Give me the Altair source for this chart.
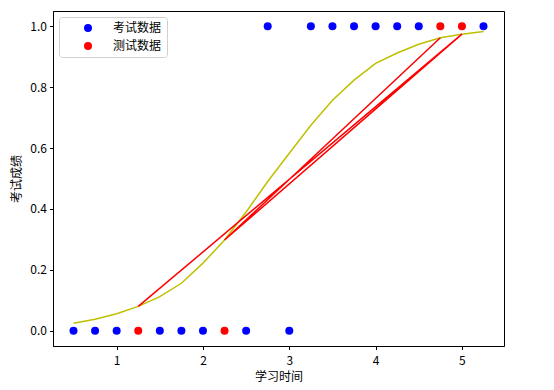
import altair as alt
import pandas as pd

# training data (考试数据)
train_x = [0.5, 0.75, 1.0, 1.5, 1.75, 2.0, 2.5, 3.0,
           2.75, 3.25, 3.5, 3.75, 4.0, 4.25, 4.5, 5.25]
train_y = [0, 0, 0, 0, 0, 0, 0, 0,
           1, 1, 1, 1, 1, 1, 1, 1]

# test data (测试数据)
test_x = [1.25, 5.0, 2.25, 4.75]
test_y = [0, 1, 0, 1]
test_pred = [0.080, 0.974, 0.298, 0.962]

# fitted curve (yellow line)
curve_x = [0.5, 0.75, 1.0, 1.25, 1.5, 1.75, 2.0, 2.25, 2.5, 2.75,
           3.0, 3.25, 3.5, 3.75, 4.0, 4.25, 4.5, 4.75, 5.0, 5.25]
curve_y = [0.025, 0.038, 0.056, 0.080, 0.112, 0.156, 0.222, 0.298, 0.390, 0.490,
           0.583, 0.675, 0.757, 0.823, 0.878, 0.912, 0.941, 0.962, 0.974, 0.983]

FONT = "Noto Sans CJK SC"

pts = pd.DataFrame({
    "x": train_x + test_x,
    "y": train_y + test_y,
    "kind": ["考试数据"] * len(train_x) + ["测试数据"] * len(test_x),
})
curve = pd.DataFrame({"x": curve_x, "y": curve_y})
pred = pd.DataFrame({"x": test_x, "y": test_pred, "i": list(range(len(test_x)))})

xscale = alt.Scale(domain=[0.2625, 5.4875], nice=False, zero=False)
yscale = alt.Scale(domain=[-0.05, 1.05], nice=False, zero=False)

xaxis = alt.Axis(values=[1, 2, 3, 4, 5], format="d", title="学习时间", grid=False,
                 labelPadding=6, titlePadding=5)
yaxis = alt.Axis(values=[0, 0.2, 0.4, 0.6, 0.8, 1.0], format=".1f", title="考试成绩", grid=False,
                 labelPadding=3, titlePadding=6)

scatter = alt.Chart(pts).mark_circle(size=64, opacity=1).encode(
    x=alt.X("x:Q", scale=xscale, axis=xaxis),
    y=alt.Y("y:Q", scale=yscale, axis=yaxis),
    color=alt.Color("kind:N",
                    scale=alt.Scale(domain=["考试数据", "测试数据"], range=["#0000ff", "#ff0000"]),
                    sort=["考试数据", "测试数据"],
                    legend=alt.Legend(title=None, orient="none", legendX=6, legendY=6,
                                      symbolType="circle", symbolSize=64,
                                      labelFont=FONT, labelFontSize=12, labelColor="black",
                                      symbolOffset=18, labelOffset=19, rowPadding=6, padding=5,
                                      strokeColor="#d0d0d0", fillColor="white",
                                      cornerRadius=3, symbolStrokeWidth=0)),
)

yellow = alt.Chart(curve).mark_line(color="#bfbf00", strokeWidth=1.5).encode(
    x=alt.X("x:Q", scale=xscale),
    y=alt.Y("y:Q", scale=yscale),
)

red = alt.Chart(pred).mark_line(color="#ff0000", strokeWidth=1.5).encode(
    x=alt.X("x:Q", scale=xscale),
    y=alt.Y("y:Q", scale=yscale),
    order="i:Q",
)

chart = alt.layer(scatter, yellow, red).properties(
    width=451, height=335,
    autosize=alt.AutoSizeParams(type="none"),
    padding={"left": 45, "top": 3, "right": 30, "bottom": 40},
).configure_view(
    stroke="black", strokeWidth=1
).configure_axis(
    domainColor="black", tickColor="black", tickSize=3.5,
    labelFont=FONT, labelFontSize=12, labelColor="black",
    titleFont=FONT, titleFontSize=12, titleFontWeight="normal", titleColor="black",
)

chart.save("out.html", embed_options={"renderer": "svg", "actions": False})
